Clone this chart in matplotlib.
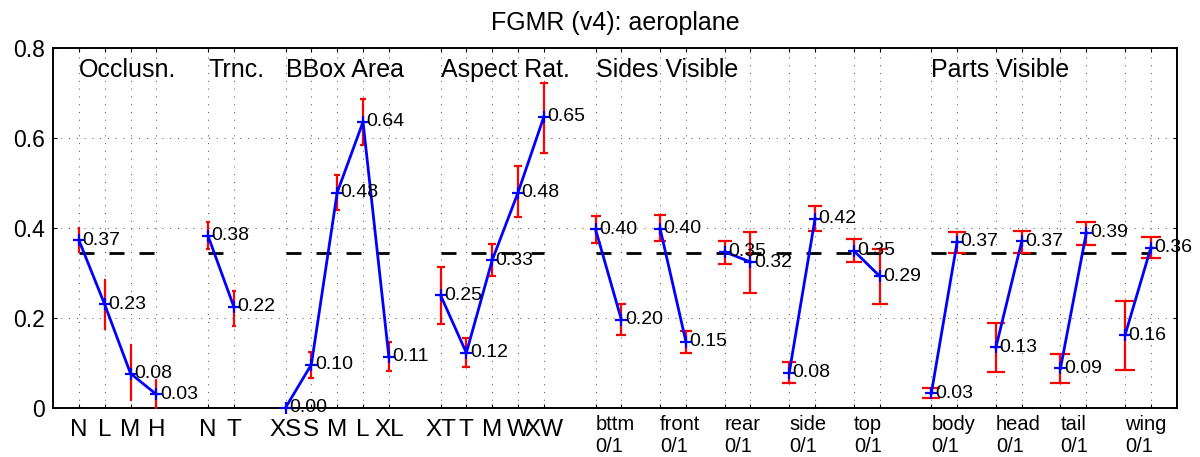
import matplotlib
matplotlib.use('Agg')
import matplotlib.pyplot as plt
import numpy as np

plt.rcParams['font.family'] = ['Liberation Sans', 'DejaVu Sans']

# ---------------- data ----------------
title = 'FGMR (v4): aeroplane'
overall_ap = 0.345

occ_labels = ['N', 'L', 'M', 'H']
occ_ap = [0.3726, 0.2296, 0.076, 0.0296]
occ_lo = [0.347, 0.174, 0.016, 0.0]
occ_hi = [0.399, 0.285, 0.139, 0.061]

trn_labels = ['N', 'T']
trn_ap = [0.382, 0.2244]
trn_lo = [0.353, 0.182]
trn_hi = [0.413, 0.260]

bbox_labels = ['XS', 'S', 'M', 'L', 'XL']
bbox_ap = [0.0, 0.096, 0.4785, 0.6356, 0.113]
bbox_lo = [0.0, 0.067, 0.439, 0.584, 0.082]
bbox_hi = [0.0, 0.124, 0.517, 0.686, 0.147]

asp_labels = ['XT', 'T', 'M', 'W', 'XW']
asp_ap = [0.2504, 0.122, 0.328, 0.4785, 0.647]
asp_lo = [0.187, 0.0896, 0.293, 0.423, 0.567]
asp_hi = [0.313, 0.156, 0.363, 0.538, 0.723]

side_names = ['bttm', 'front', 'rear', 'side', 'top']
side_ap0 = [0.397, 0.3985, 0.3467, 0.0778, 0.349]
side_lo0 = [0.367, 0.370, 0.3185, 0.0556, 0.324]
side_hi0 = [0.427, 0.428, 0.370, 0.1007, 0.375]
side_ap1 = [0.196, 0.147, 0.324, 0.4207, 0.2926]
side_lo1 = [0.161, 0.121, 0.254, 0.3926, 0.230]
side_hi1 = [0.230, 0.170, 0.391, 0.449, 0.354]

part_names = ['body', 'head', 'tail', 'wing']
part_ap0 = [0.0319, 0.134, 0.0874, 0.1615]
part_lo0 = [0.022, 0.080, 0.0556, 0.0837]
part_hi0 = [0.043, 0.189, 0.119, 0.238]
part_ap1 = [0.369, 0.370, 0.389, 0.356]
part_lo1 = [0.343, 0.345, 0.361, 0.332]
part_hi1 = [0.391, 0.393, 0.413, 0.380]

group_titles = ['Occlusn.', 'Trnc.', 'BBox Area', 'Aspect Rat.', 'Sides Visible', 'Parts Visible']
yticks = [0, 0.2, 0.4, 0.6, 0.8]
ytick_labels = ['0', '0.2', '0.4', '0.6', '0.8']

# ---------------- figure ----------------
fig = plt.figure(figsize=(12, 4.57), dpi=100)
ax = fig.add_axes([0.0442, 0.1079, 0.9364, 0.7871])

VAL_FS = 14


def draw_segment(xs, ys, lo, hi, cap):
    xs = np.asarray(xs, float)
    ys = np.asarray(ys, float)
    lo = np.asarray(lo, float)
    hi = np.asarray(hi, float)
    m = hi > lo
    if m.any():
        ax.errorbar(xs[m], ys[m], yerr=[ys[m] - lo[m], hi[m] - ys[m]], fmt='none',
                    ecolor='red', elinewidth=1.6, capsize=cap, capthick=1.6, zorder=3)
    ax.plot(xs, ys, color='blue', lw=2, marker='+', ms=8, mew=1.6, zorder=4,
            clip_on=False)
    for x, y in zip(xs, ys):
        ax.annotate(f'{y:.2f}', (x, y), xytext=(2.5, 0), textcoords='offset points',
                    ha='left', va='center', fontsize=VAL_FS, zorder=5,
                    annotation_clip=False)


def dashed(x0, x1):
    ax.plot([x0, x1], [overall_ap, overall_ap], color='k', lw=2,
            linestyle=(0, (5.4, 5.4)), zorder=2.5)


tick_pos = []
tick_lab = []
title_pos = []

# simple categorical groups (last item: cap half-width in points)
pos = 1.0
simple = [(occ_labels, occ_ap, occ_lo, occ_hi, 1.0),
          (trn_labels, trn_ap, trn_lo, trn_hi, 1.5),
          (bbox_labels, bbox_ap, bbox_lo, bbox_hi, 2.5),
          (asp_labels, asp_ap, asp_lo, asp_hi, 3.2)]
for labels, ap, lo, hi, cap in simple:
    xs = pos + np.arange(len(labels))
    draw_segment(xs, ap, lo, hi, cap)
    dashed(xs[0], xs[-1])
    tick_pos += list(xs)
    tick_lab += labels
    title_pos.append(xs[0])
    pos = xs[-1] + 2

# pair groups
pair_groups = [(side_names, side_ap0, side_lo0, side_hi0, side_ap1, side_lo1, side_hi1,
                [3.6, 4.6, 4.9, 4.8, 6.0]),
               (part_names, part_ap0, part_lo0, part_hi0, part_ap1, part_lo1, part_hi1,
                [6.4, 6.6, 7.1, 7.3])]
name_pos = []
for names, a0, l0, h0, a1, l1, h1, caps in pair_groups:
    start = pos
    title_pos.append(start)
    for i, nm in enumerate(names):
        x0 = start + 2.5 * i
        xs = [x0, x0 + 1]
        draw_segment(xs, [a0[i], a1[i]], [l0[i], l1[i]], [h0[i], h1[i]], caps[i])
        tick_pos += xs
        tick_lab += ['', '']
        name_pos.append((x0, nm))
    last = start + 2.5 * (len(names) - 1) + 1
    dashed(start, last)
    pos = last + 2

for x, nm in name_pos:
    ax.annotate(f'{nm}\n0/1', xy=(x, 0), xycoords=('data', 'axes fraction'),
                xytext=(0, -5), textcoords='offset points', ha='left', va='top',
                fontsize=14.5, linespacing=1.25)

for x, t in zip(title_pos, group_titles):
    ax.text(x, 0.75, t, ha='left', va='center', fontsize=18)

ax.set_xlim(0, 43.5)
ax.set_ylim(0, 0.8)
ax.set_xticks(tick_pos)
ax.set_xticklabels(tick_lab, fontsize=17.5)
ax.set_yticks(yticks)
ax.set_yticklabels(ytick_labels, fontsize=16.5)
ax.tick_params(direction='in', top=True, right=True, length=3, width=0.8)
ax.tick_params(axis='x', pad=8)
ax.tick_params(axis='y', pad=6)
ax.grid(True, linestyle=(0, (1, 7)), color='0.3', lw=0.7)
ax.set_axisbelow(True)
for s in ax.spines.values():
    s.set_linewidth(1.4)

ax.set_title(title, fontsize=18, pad=13)

fig.savefig('out.png', dpi=100)
